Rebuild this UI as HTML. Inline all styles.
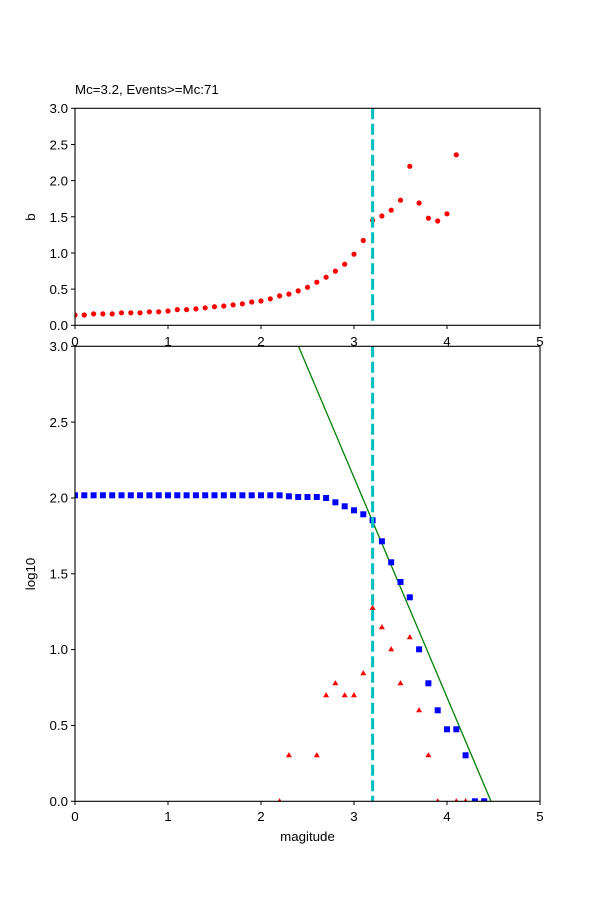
<!DOCTYPE html>
<html><head><meta charset="utf-8"><style>body{margin:0;background:#fff}svg{display:block}text{font-family:"Liberation Sans","DejaVu Sans",sans-serif;font-size:13.3px;fill:#000}</style></head>
<body>
<svg width="600" height="900" viewBox="0 0 600 900" xmlns="http://www.w3.org/2000/svg">
<defs>
<clipPath id="c1"><rect x="75" y="108.3" width="465" height="217"/></clipPath>
<clipPath id="c2"><rect x="75" y="346.3" width="465" height="455"/></clipPath>
<rect id="sq" x="-3" y="-3" width="6" height="6" fill="#0000ff"/>
<polygon id="tr" points="0,-3.2 3,2 -3,2" fill="#ff0000"/>
</defs>
<rect width="600" height="900" fill="#fff"/>
<!-- TOP -->
<text x="75" y="94">Mc=3.2, Events&gt;=Mc:71</text>
<g clip-path="url(#c1)" fill="#ff0000">
<circle cx="75" cy="315" r="2.6"/><circle cx="84.3" cy="315" r="2.6"/><circle cx="93.6" cy="313.9" r="2.6"/><circle cx="102.9" cy="313.9" r="2.6"/><circle cx="112.2" cy="313.9" r="2.6"/><circle cx="121.5" cy="312.8" r="2.6"/><circle cx="130.8" cy="312.8" r="2.6"/><circle cx="140.1" cy="312.8" r="2.6"/><circle cx="149.4" cy="311.8" r="2.6"/><circle cx="158.7" cy="311.8" r="2.6"/><circle cx="168" cy="311" r="2.6"/><circle cx="177.3" cy="309.6" r="2.6"/><circle cx="186.6" cy="309.6" r="2.6"/><circle cx="195.9" cy="308.9" r="2.6"/><circle cx="205.2" cy="307.8" r="2.6"/><circle cx="214.5" cy="306.7" r="2.6"/><circle cx="223.8" cy="306" r="2.6"/><circle cx="233.1" cy="304.9" r="2.6"/><circle cx="242.4" cy="303.8" r="2.6"/><circle cx="251.7" cy="302" r="2.6"/><circle cx="261" cy="301" r="2.6"/><circle cx="270.3" cy="298.8" r="2.6"/><circle cx="279.6" cy="295.9" r="2.6"/><circle cx="288.9" cy="294.1" r="2.6"/><circle cx="298.2" cy="290.9" r="2.6"/><circle cx="307.5" cy="287.3" r="2.6"/><circle cx="316.8" cy="282.2" r="2.6"/><circle cx="326.1" cy="277.2" r="2.6"/><circle cx="335.4" cy="271.1" r="2.6"/><circle cx="344.7" cy="264.2" r="2.6"/><circle cx="354" cy="254.2" r="2.6"/><circle cx="363.3" cy="240.5" r="2.6"/><circle cx="372.6" cy="220.3" r="2.6"/><circle cx="381.9" cy="216" r="2.6"/><circle cx="391.2" cy="210.2" r="2.6"/><circle cx="400.5" cy="200.2" r="2.6"/><circle cx="409.8" cy="166.3" r="2.6"/><circle cx="419.1" cy="203" r="2.6"/><circle cx="428.4" cy="218.2" r="2.6"/><circle cx="437.7" cy="221" r="2.6"/><circle cx="447" cy="213.8" r="2.6"/><circle cx="456.3" cy="154.8" r="2.6"/>
</g>
<line x1="372.6" y1="108.3" x2="372.6" y2="325.3" stroke="#00bfbf" stroke-width="3" stroke-dasharray="11,4.5"/>
<rect x="75" y="108.3" width="465" height="217" fill="none" stroke="#000" stroke-width="1.1"/>
<g stroke="#000" stroke-width="1">
<line x1="75" y1="325.3" x2="75" y2="329"/><line x1="168" y1="325.3" x2="168" y2="329"/><line x1="261" y1="325.3" x2="261" y2="329"/><line x1="354" y1="325.3" x2="354" y2="329"/><line x1="447" y1="325.3" x2="447" y2="329"/><line x1="540" y1="325.3" x2="540" y2="329"/>
<line x1="71" y1="325.3" x2="75" y2="325.3"/><line x1="71" y1="289.1" x2="75" y2="289.1"/><line x1="71" y1="253" x2="75" y2="253"/><line x1="71" y1="216.8" x2="75" y2="216.8"/><line x1="71" y1="180.6" x2="75" y2="180.6"/><line x1="71" y1="144.5" x2="75" y2="144.5"/><line x1="71" y1="108.3" x2="75" y2="108.3"/>
</g>
<g text-anchor="end">
<text x="68" y="330">0.0</text><text x="68" y="294">0.5</text><text x="68" y="258">1.0</text><text x="68" y="222">1.5</text><text x="68" y="185.5">2.0</text><text x="68" y="149.5">2.5</text><text x="68" y="113">3.0</text>
</g>
<text transform="translate(35,217) rotate(-90)" text-anchor="middle">b</text>
<!-- BOTTOM -->
<rect x="75" y="346.3" width="465" height="455" fill="#fff"/>
<g clip-path="url(#c2)">
<line x1="298.5" y1="346.3" x2="491" y2="801.3" stroke="#008000" stroke-width="1.3"/>
<g>
<use href="#sq" x="75" y="495.3"/><use href="#sq" x="84.3" y="495.3"/><use href="#sq" x="93.6" y="495.3"/><use href="#sq" x="102.9" y="495.3"/><use href="#sq" x="112.2" y="495.3"/><use href="#sq" x="121.5" y="495.3"/><use href="#sq" x="130.8" y="495.3"/><use href="#sq" x="140.1" y="495.3"/><use href="#sq" x="149.4" y="495.3"/><use href="#sq" x="158.7" y="495.3"/><use href="#sq" x="168" y="495.3"/><use href="#sq" x="177.3" y="495.3"/><use href="#sq" x="186.6" y="495.3"/><use href="#sq" x="195.9" y="495.3"/><use href="#sq" x="205.2" y="495.3"/><use href="#sq" x="214.5" y="495.3"/><use href="#sq" x="223.8" y="495.3"/><use href="#sq" x="233.1" y="495.3"/><use href="#sq" x="242.4" y="495.3"/><use href="#sq" x="251.7" y="495.3"/><use href="#sq" x="261" y="495.3"/><use href="#sq" x="270.3" y="495.3"/><use href="#sq" x="279.6" y="495.3"/><use href="#sq" x="288.9" y="496.3"/><use href="#sq" x="298.2" y="497"/><use href="#sq" x="307.5" y="497"/><use href="#sq" x="316.8" y="497"/><use href="#sq" x="326.1" y="498"/><use href="#sq" x="335.4" y="502.3"/><use href="#sq" x="344.7" y="506.3"/><use href="#sq" x="354" y="510.3"/><use href="#sq" x="363.3" y="514.3"/><use href="#sq" x="372.6" y="520.3"/><use href="#sq" x="381.9" y="541.3"/><use href="#sq" x="391.2" y="562.3"/><use href="#sq" x="400.5" y="582"/><use href="#sq" x="409.8" y="597.3"/><use href="#sq" x="419.1" y="649.3"/><use href="#sq" x="428.4" y="683.3"/><use href="#sq" x="437.7" y="710.3"/><use href="#sq" x="447" y="729.3"/><use href="#sq" x="456.3" y="729.3"/><use href="#sq" x="465.6" y="755.3"/><use href="#sq" x="474.9" y="801.3"/><use href="#sq" x="484.2" y="801.3"/>
</g>
<g>
<use href="#tr" x="279.6" y="801.3"/><use href="#tr" x="288.9" y="755.3"/><use href="#tr" x="316.8" y="755.3"/><use href="#tr" x="326.1" y="695.3"/><use href="#tr" x="335.4" y="683.3"/><use href="#tr" x="344.7" y="695.3"/><use href="#tr" x="354" y="695.3"/><use href="#tr" x="363.3" y="673.3"/><use href="#tr" x="372.6" y="608"/><use href="#tr" x="381.9" y="627.3"/><use href="#tr" x="391.2" y="649.3"/><use href="#tr" x="400.5" y="683.3"/><use href="#tr" x="409.8" y="637.3"/><use href="#tr" x="419.1" y="710.3"/><use href="#tr" x="428.4" y="755.3"/><use href="#tr" x="437.7" y="801.3"/><use href="#tr" x="456.3" y="801.3"/><use href="#tr" x="465.6" y="801.3"/>
</g>
</g>
<line x1="372.6" y1="346.3" x2="372.6" y2="801.3" stroke="#00bfbf" stroke-width="3" stroke-dasharray="11,4.5"/>
<rect x="75" y="346.3" width="465" height="455" fill="none" stroke="#000" stroke-width="1.1"/>
<g stroke="#000" stroke-width="1">
<line x1="75" y1="801.3" x2="75" y2="805"/><line x1="168" y1="801.3" x2="168" y2="805"/><line x1="261" y1="801.3" x2="261" y2="805"/><line x1="354" y1="801.3" x2="354" y2="805"/><line x1="447" y1="801.3" x2="447" y2="805"/><line x1="540" y1="801.3" x2="540" y2="805"/>
<line x1="71" y1="801.3" x2="75" y2="801.3"/><line x1="71" y1="725.5" x2="75" y2="725.5"/><line x1="71" y1="649.6" x2="75" y2="649.6"/><line x1="71" y1="573.8" x2="75" y2="573.8"/><line x1="71" y1="498" x2="75" y2="498"/><line x1="71" y1="422.1" x2="75" y2="422.1"/><line x1="71" y1="346.3" x2="75" y2="346.3"/>
</g>
<g text-anchor="end">
<text x="68" y="806">0.0</text><text x="68" y="730">0.5</text><text x="68" y="654">1.0</text><text x="68" y="578.5">1.5</text><text x="68" y="502.5">2.0</text><text x="68" y="427">2.5</text><text x="68" y="351">3.0</text>
</g>
<g text-anchor="middle">
<text x="75" y="346">0</text><text x="168" y="346">1</text><text x="261" y="346">2</text><text x="354" y="346">3</text><text x="447" y="346">4</text><text x="540" y="346">5</text>
<text x="75" y="821">0</text><text x="168" y="821">1</text><text x="261" y="821">2</text><text x="354" y="821">3</text><text x="447" y="821">4</text><text x="540" y="821">5</text>
<text x="307.5" y="841">magitude</text>
</g>
<text transform="translate(35,574) rotate(-90)" text-anchor="middle">log10</text>
</svg>
</body></html>
